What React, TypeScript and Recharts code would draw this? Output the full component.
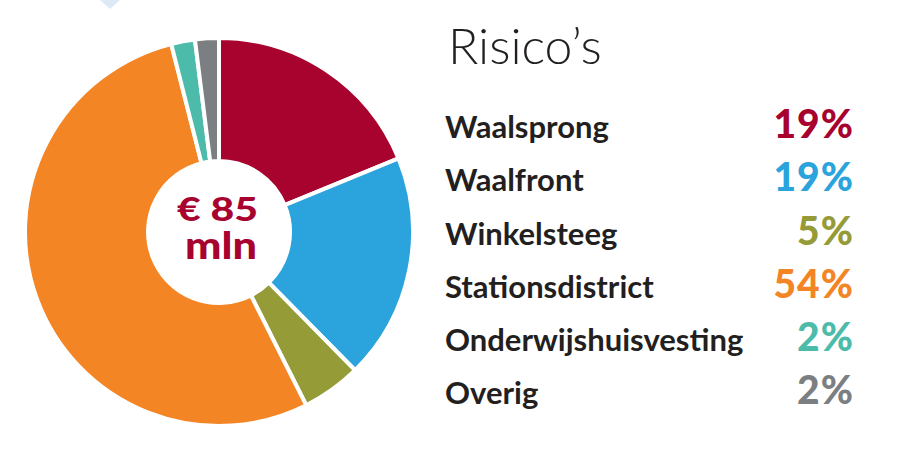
import { PieChart, Pie, Cell, Legend } from 'recharts';

const categories = ['Waalsprong', 'Waalfront', 'Winkelsteeg', 'Stationsdistrict', 'Onderwijshuisvesting', 'Overig'];
const shares = [19, 19, 5, 54, 2, 2];
const colors = ['#a8032f', '#2ba3dc', '#959b37', '#f38524', '#4cbba9', '#7c7f82'];
const title = 'Risico\u2019s';
const centerLines = ['\u20ac 85', 'mln'];

const data = categories.map((name, i) => ({ name, value: shares[i] }));

function RiskLegend() {
  return (
    <div style={{ width: 408, fontFamily: 'Lato, sans-serif', color: '#231f20' }}>
      <div style={{ fontSize: 50, fontWeight: 300, lineHeight: '60px', marginLeft: 3, marginBottom: 22.6 }}>{title}</div>
      {data.map((d, i) => (
        <div key={d.name} style={{ display: 'flex', alignItems: 'baseline', justifyContent: 'space-between', height: 53.2 }}>
          <span style={{ fontSize: 31, fontWeight: 700, lineHeight: '53px' }}>{d.name}</span>
          <span style={{ fontSize: 39, fontWeight: 900, lineHeight: '53px', letterSpacing: 1, marginRight: -1, color: colors[i] }}>
            {d.value}%
          </span>
        </div>
      ))}
    </div>
  );
}

export default function App() {
  return (
    <div style={{ position: 'fixed', left: 0, top: 0, width: 897, height: 449, background: '#fff' }}>
      <svg width={897} height={449} style={{ position: 'absolute', left: 0, top: 0 }}>
        <polygon points="100,0 120,0 110,9" fill="#dde9f6" />
      </svg>
      <PieChart width={897} height={449} margin={{ top: 0, right: 0, bottom: 0, left: 0 }} style={{ position: 'absolute', left: 0, top: 0 }}>
        <Pie
          data={data}
          dataKey="value"
          nameKey="name"
          cx={219}
          cy={232}
          outerRadius={194}
          innerRadius={71}
          startAngle={90}
          endAngle={-270}
          stroke="#fff"
          strokeWidth={4}
          isAnimationActive={false}
        >
          {data.map((d, i) => (
            <Cell key={d.name} fill={colors[i]} />
          ))}
        </Pie>
        <Legend
          layout="vertical"
          align="right"
          verticalAlign="top"
          content={<RiskLegend />}
          wrapperStyle={{ left: 445, top: 14.6, width: 408 }}
        />
      </PieChart>
      <svg width={897} height={449} style={{ position: 'absolute', left: 0, top: 0, pointerEvents: 'none' }}>
        <text fill="#a8032f" fontFamily="Lato, sans-serif" fontWeight={900} textAnchor="middle">
          <tspan x={217.5} y={221} fontSize={33} textLength={81} lengthAdjust="spacingAndGlyphs">{centerLines[0]}</tspan>
          <tspan x={221} y={259} fontSize={37} textLength={72} lengthAdjust="spacingAndGlyphs">{centerLines[1]}</tspan>
        </text>
      </svg>
    </div>
  );
}
